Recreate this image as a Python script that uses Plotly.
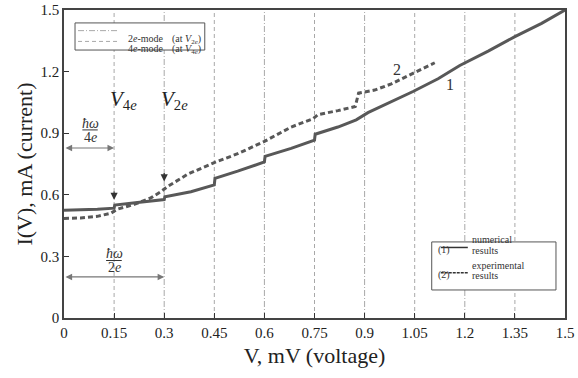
import plotly.graph_objects as go

# ---------------- data ----------------
num_v = [0, 0.05, 0.10, 0.15, 0.152, 0.22, 0.30, 0.302, 0.38, 0.45, 0.452, 0.52, 0.60, 0.602,
         0.68, 0.75, 0.752, 0.82, 0.875, 0.91, 0.97, 1.045, 1.12, 1.185, 1.27, 1.35, 1.43, 1.5]
num_i = [0.525, 0.526, 0.530, 0.535, 0.550, 0.562, 0.577, 0.590, 0.615, 0.648, 0.680, 0.715, 0.760, 0.787,
         0.826, 0.866, 0.895, 0.930, 0.965, 1.000, 1.045, 1.103, 1.165, 1.230, 1.300, 1.370, 1.435, 1.5]

exp_v = [0, 0.05, 0.10, 0.14, 0.16, 0.21, 0.26, 0.29, 0.31, 0.37, 0.45, 0.52, 0.60, 0.68,
         0.745, 0.76, 0.82, 0.872, 0.882, 0.93, 0.98, 1.045, 1.11]
exp_i = [0.485, 0.487, 0.495, 0.510, 0.530, 0.553, 0.585, 0.615, 0.640, 0.700, 0.757, 0.800, 0.860, 0.930,
         0.970, 0.990, 1.010, 1.030, 1.095, 1.110, 1.140, 1.190, 1.243]

mode4e_v = [0.15, 0.45, 0.75, 1.05, 1.35]   # dashed grid lines (4e-mode)
mode2e_v = [0.3, 0.6, 0.9, 1.2]             # dash-dot grid lines (2e-mode)

x_ticks = [0, 0.15, 0.3, 0.45, 0.6, 0.75, 0.9, 1.05, 1.2, 1.35, 1.5]
x_tick_text = ["0", "0.15", "0.3", "0.45", "0.6", "0.75", "0.9", "1.05", "1.2", "1.35", "1.5"]
y_ticks = [0, 0.3, 0.6, 0.9, 1.2, 1.5]
y_tick_text = ["0", "0.3", "0.6", "0.9", "1.2", "1.5"]

FONT = "'Liberation Serif', 'Times New Roman', 'DejaVu Serif', serif"
CURVE = "#585858"
GRID = "#a8a8a8"

fig = go.Figure()

# grid lines as traces
for v in mode4e_v:
    fig.add_trace(go.Scatter(x=[v, v], y=[0, 1.5], mode="lines",
                             line=dict(color=GRID, width=1, dash="4px,3px"),
                             showlegend=False, hoverinfo="skip"))
for v in mode2e_v:
    fig.add_trace(go.Scatter(x=[v, v], y=[0, 1.5], mode="lines",
                             line=dict(color=GRID, width=1, dash="6px,2px,1px,2px"),
                             showlegend=False, hoverinfo="skip"))

fig.add_trace(go.Scatter(x=num_v, y=num_i, mode="lines",
                         line=dict(color=CURVE, width=3), showlegend=False))
fig.add_trace(go.Scatter(x=exp_v, y=exp_i, mode="lines",
                         line=dict(color=CURVE, width=3, dash="5px,3px"), showlegend=False))

ann = []
shapes = []

# curve labels
ann.append(dict(x=1.156, y=1.135, text="1", showarrow=False, font=dict(size=16, family=FONT, color="#333")))
ann.append(dict(x=0.996, y=1.208, text="2", showarrow=False, font=dict(size=16, family=FONT, color="#333")))

# V labels
ann.append(dict(x=0.178, y=1.06, text="<i>V</i><sub>4<i>e</i></sub>", showarrow=False,
                font=dict(size=21, family=FONT, color="#222")))
ann.append(dict(x=0.33, y=1.06, text="<i>V</i><sub>2<i>e</i></sub>", showarrow=False,
                font=dict(size=21, family=FONT, color="#222")))

# down arrow heads at V4e and V2e
ann.append(dict(x=0.15, y=0.575, ax=0, ay=-10, text="", showarrow=True, arrowhead=2,
                arrowsize=1.2, arrowwidth=1.2, arrowcolor="#333"))
ann.append(dict(x=0.30, y=0.665, ax=0, ay=-10, text="", showarrow=True, arrowhead=2,
                arrowsize=1.2, arrowwidth=1.2, arrowcolor="#333"))

# horizontal double arrows
ann.append(dict(x=0.15, y=0.828, ax=0.0, ay=0.828, axref="x", ayref="y", text="", showarrow=True,
                arrowhead=2, arrowside="end+start", arrowsize=1.1, arrowwidth=1.2, arrowcolor="#777"))
ann.append(dict(x=0.30, y=0.20, ax=0.0, ay=0.20, axref="x", ayref="y", text="", showarrow=True,
                arrowhead=2, arrowside="end+start", arrowsize=1.1, arrowwidth=1.2, arrowcolor="#777"))

# fractions
frac_font = dict(size=14, family=FONT, color="#333")
ann.append(dict(x=0.078, y=0.948, text="<i>ħω</i>", showarrow=False, font=frac_font))
ann.append(dict(x=0.078, y=0.881, text="4<i>e</i>", showarrow=False, font=frac_font))
shapes.append(dict(type="line", x0=0.055, x1=0.101, y0=0.916, y1=0.916, line=dict(color="#333", width=1)))
ann.append(dict(x=0.150, y=0.312, text="<i>ħω</i>", showarrow=False, font=frac_font))
ann.append(dict(x=0.150, y=0.245, text="2<i>e</i>", showarrow=False, font=frac_font))
shapes.append(dict(type="line", x0=0.126, x1=0.173, y0=0.280, y1=0.280, line=dict(color="#333", width=1)))

# top-left legend (grid line styles)
shapes.append(dict(type="rect", xref="x domain", yref="y domain", x0=0.022, x1=0.281, y0=0.870, y1=0.958,
                   line=dict(color="#555", width=1), fillcolor="white"))
shapes.append(dict(type="line", xref="x domain", yref="y domain", x0=0.028, x1=0.108, y0=0.933, y1=0.933,
                   line=dict(color=GRID, width=1, dash="6px,2px,1px,2px")))
shapes.append(dict(type="line", xref="x domain", yref="y domain", x0=0.028, x1=0.108, y0=0.898, y1=0.898,
                   line=dict(color=GRID, width=1, dash="4px,3px")))
lf = dict(size=10, family=FONT, color="#333")
ann.append(dict(xref="x domain", yref="y domain", x=0.124, y=0.933, xanchor="left", text="2<i>e</i>-mode",
                showarrow=False, font=lf))
ann.append(dict(xref="x domain", yref="y domain", x=0.124, y=0.898, xanchor="left", text="4<i>e</i>-mode",
                showarrow=False, font=lf))
ann.append(dict(xref="x domain", yref="y domain", x=0.212, y=0.933, xanchor="left",
                text="(at <i>V</i><sub>2<i>e</i></sub>)", showarrow=False, font=lf))
ann.append(dict(xref="x domain", yref="y domain", x=0.212, y=0.898, xanchor="left",
                text="(at <i>V</i><sub>4<i>e</i></sub>)", showarrow=False, font=lf))

# bottom-right legend (curves)
shapes.append(dict(type="rect", xref="x domain", yref="y domain", x0=0.734, x1=0.982, y0=0.091, y1=0.247,
                   line=dict(color="#555", width=1), fillcolor="white"))
shapes.append(dict(type="line", xref="x domain", yref="y domain", x0=0.752, x1=0.806, y0=0.229, y1=0.229,
                   line=dict(color="#333", width=1.5)))
shapes.append(dict(type="line", xref="x domain", yref="y domain", x0=0.752, x1=0.806, y0=0.147, y1=0.147,
                   line=dict(color="#333", width=1.5, dash="3px,1px")))
for (yy, txt) in [(0.229, "numerical"), (0.196, "results"), (0.147, "experimental"), (0.114, "results")]:
    ann.append(dict(xref="x domain", yref="y domain", x=0.810, y=yy, xanchor="left", text=txt,
                    showarrow=False, font=dict(size=10, family=FONT, color="#333")))
ann.append(dict(xref="x domain", yref="y domain", x=0.775, y=0.196, text="(1)", showarrow=False,
                font=dict(size=10, family=FONT, color="#333")))
ann.append(dict(xref="x domain", yref="y domain", x=0.775, y=0.114, text="(2)", showarrow=False,
                font=dict(size=10, family=FONT, color="#333")))

fig.update_layout(
    width=578, height=378,
    margin=dict(l=64, r=13, t=10, b=60, autoexpand=False),
    paper_bgcolor="white", plot_bgcolor="white",
    font=dict(family=FONT, color="#333"),
    annotations=ann, shapes=shapes,
    showlegend=False,
)
fig.update_xaxes(range=[0, 1.5], tickvals=x_ticks, ticktext=x_tick_text, ticks="inside", ticklen=5,
                 tickcolor="#333", showgrid=False, zeroline=False, showline=True, linecolor="#444",
                 linewidth=1.5, mirror=True, automargin=False,
                 tickfont=dict(size=15, family=FONT, color="#222"),
                 title=dict(text="V, mV (voltage)", font=dict(size=22, family=FONT, color="#222"), standoff=8))
fig.update_yaxes(range=[0, 1.5], tickvals=y_ticks, ticktext=y_tick_text, ticks="inside", ticklen=5,
                 tickcolor="#333", showgrid=False, zeroline=False, showline=True, linecolor="#444",
                 linewidth=1.5, mirror=True, automargin=False,
                 tickfont=dict(size=15, family=FONT, color="#222"),
                 title=dict(text="I(V), mA (current)", font=dict(size=22, family=FONT, color="#222"), standoff=2))

fig.write_html("out.html",
               config={"displayModeBar": False},
               post_script="document.body.style.margin='0';document.body.style.overflow='hidden';")
